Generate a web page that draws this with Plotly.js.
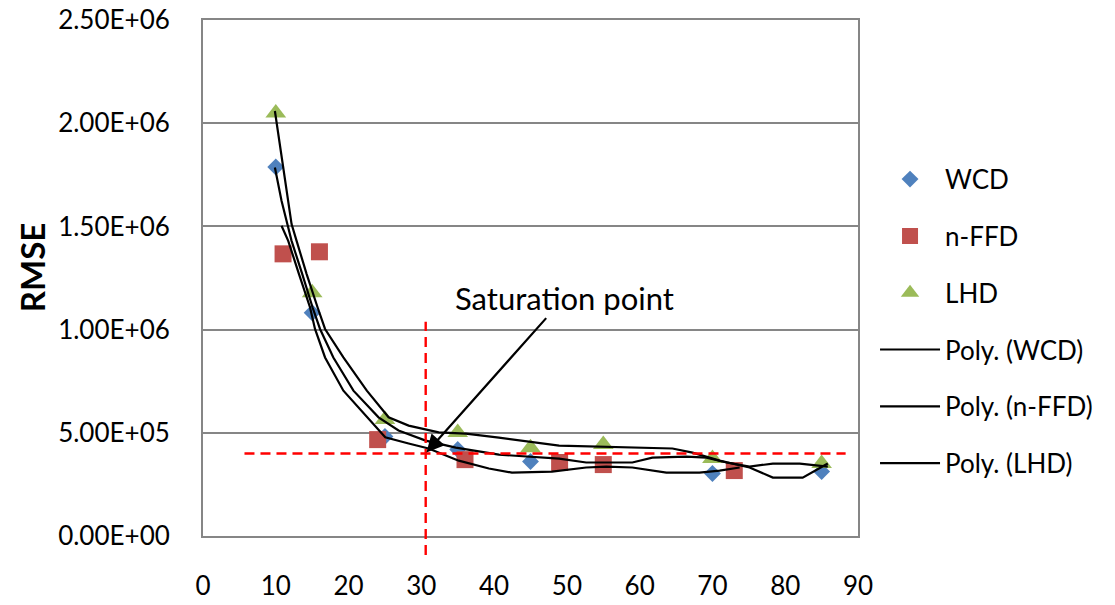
<!DOCTYPE html>
<html>
<head>
<meta charset="utf-8">
<script src="https://cdn.plot.ly/plotly-3.0.1.min.js"></script>
<style>
  html, body { margin: 0; padding: 0; background: #ffffff; }
  #chart { width: 1115px; height: 605px; }
</style>
</head>
<body>
<div id="chart"></div>
<script>
// ---- Data ----
const xWCD = [10, 15, 25, 35, 45, 70, 85];
const yWCD = [1.788e6, 1.082e6, 4.82e5, 4.19e5, 3.61e5, 3.03e5, 3.12e5];

const xFFD = [11, 16, 24, 36, 49, 55, 73];
const yFFD = [1.367e6, 1.377e6, 4.67e5, 3.70e5, 3.56e5, 3.46e5, 3.17e5];

const xLHD = [10, 15, 25, 35, 45, 55, 70, 85];
const yLHD = [2.05e6, 1.178e6, 5.64e5, 5.01e5, 4.28e5, 4.43e5, 3.75e5, 3.51e5];

// polynomial trend lines as drawn in the reference (traced points)
const xPolyWCD = [9.88, 10.79, 11.71, 12.17, 13.64, 15.06, 16.08, 17.91, 20.67, 24.12, 26.87, 30.6, 34.73, 40.66, 48.93, 52.65, 58.99, 61.74, 66.43, 69.19, 71.95, 75.1, 78.3, 82.0, 85.85];
const yPolyWCD = [1.785e6, 1.624e6, 1.495e6, 1.430e6, 1.269e6, 1.107e6, 1.003e6, 8.65e5, 7.04e5, 5.75e5, 5.11e5, 4.62e5, 4.28e5, 3.94e5, 3.75e5, 3.56e5, 3.56e5, 3.80e5, 3.85e5, 3.80e5, 3.56e5, 3.36e5, 3.51e5, 3.51e5, 3.36e5];

const xPolyFFD = [10.79, 11.71, 13.19, 14.71, 15.39, 16.77, 19.29, 22.51, 25.04, 28.25, 31.0, 35.14, 39.28, 42.45, 47.96, 52.65, 55.4, 58.99, 63.67, 68.22, 70.98, 73.74];
const yPolyFFD = [1.503e6, 1.430e6, 1.269e6, 1.107e6, 1.003e6, 8.65e5, 7.04e5, 5.75e5, 4.78e5, 4.48e5, 4.24e5, 3.65e5, 3.27e5, 3.07e5, 3.12e5, 3.32e5, 3.36e5, 3.32e5, 3.07e5, 3.07e5, 3.17e5, 3.32e5];

const xPolyLHD = [9.88, 11.03, 12.17, 12.86, 14.24, 15.75, 16.77, 19.29, 22.51, 25.5, 28.25, 32.39, 36.11, 40.66, 48.93, 64.5, 67.26, 70.98, 75.1, 78.3, 82.4, 85.85];
const yPolyLHD = [2.059e6, 1.785e6, 1.511e6, 1.430e6, 1.269e6, 1.107e6, 1.003e6, 8.65e5, 7.04e5, 5.75e5, 5.35e5, 5.02e5, 4.96e5, 4.77e5, 4.38e5, 4.24e5, 4.04e5, 3.65e5, 3.32e5, 2.83e5, 2.83e5, 3.51e5];

// axis ticks
const xTicks = [0, 10, 20, 30, 40, 50, 60, 70, 80, 90];
const yTicks = [0, 5e5, 1e6, 1.5e6, 2e6, 2.5e6];
const yTickText = ['0.00E+00', '5.00E+05', '1.00E+06', '1.50E+06', '2.00E+06', '2.50E+06'];

// saturation point reference
const satX = 30.6;
const satY = 4.0e5;
const satLabel = 'Saturation point';
const yTitle = 'RMSE';

// ---- Styling ----
const FONT = 'Lato, "Open Sans", sans-serif';
const grey = '#868686';
const lineStyle = { color: '#000000', width: 2.2, shape: 'linear' };

const traces = [
  { x: xWCD, y: yWCD, name: 'WCD', type: 'scatter', mode: 'markers', legendgroup: 'a',
    marker: { symbol: 'diamond', size: 13, color: '#4f81bd' } },
  { x: xFFD, y: yFFD, name: 'n-FFD', type: 'scatter', mode: 'markers', legendgroup: 'b',
    marker: { symbol: 'square', size: 17, color: '#c0504d' } },
  { x: xLHD, y: yLHD, name: 'LHD', type: 'scatter', mode: 'markers', legendgroup: 'c',
    marker: { symbol: 'triangle-up', size: 18, color: '#9bbb59' } },
  { x: xPolyWCD, y: yPolyWCD, name: 'Poly. (WCD)', type: 'scatter', mode: 'lines', legendgroup: 'd', line: lineStyle },
  { x: xPolyFFD, y: yPolyFFD, name: 'Poly. (n-FFD)', type: 'scatter', mode: 'lines', legendgroup: 'e', line: lineStyle },
  { x: xPolyLHD, y: yPolyLHD, name: 'Poly. (LHD)', type: 'scatter', mode: 'lines', legendgroup: 'f', line: lineStyle }
];

const layout = {
  width: 1115, height: 605,
  margin: { l: 203, r: 257, t: 20, b: 69, pad: 0 },
  paper_bgcolor: '#ffffff', plot_bgcolor: '#ffffff',
  font: { family: FONT, size: 26, color: '#000000' },
  showlegend: true,
  legend: {
    x: 1.026, xanchor: 'left', y: 0.737, yanchor: 'top',
    font: { family: FONT, size: 26, color: '#000000' },
    tracegroupgap: 20, itemwidth: 60, bgcolor: 'rgba(0,0,0,0)'
  },
  xaxis: {
    range: [0, 90], tickvals: xTicks, ticktext: xTicks.map(String),
    showgrid: false, zeroline: false, showline: true, linecolor: grey, linewidth: 2, mirror: true,
    ticks: '', ticklabelstandoff: 26, tickfont: { family: FONT, size: 26, color: '#000000' }
  },
  yaxis: {
    range: [0, 2.5e6], tickvals: yTicks, ticktext: yTickText,
    showgrid: true, gridcolor: grey, gridwidth: 2, zeroline: false,
    showline: true, linecolor: grey, linewidth: 2, mirror: true,
    ticks: '', ticklabelstandoff: 26, tickfont: { family: FONT, size: 26, color: '#000000' }
  },
  shapes: [
    { type: 'line', xref: 'x', yref: 'paper', x0: satX, x1: satX, y0: -0.037, y1: 0.415,
      line: { color: '#ff0000', width: 2.4, dash: '10px,6px' } },
    { type: 'line', xref: 'x', yref: 'y', x0: 5.7, x1: 88.3, y0: satY, y1: satY,
      line: { color: '#ff0000', width: 2.4, dash: '10px,6px' } }
  ],
  annotations: [
    { x: satX + 0.1, y: satY + 4000, xref: 'x', yref: 'y', text: satLabel, showarrow: true,
      ax: 138, ay: -155, arrowhead: 2, arrowsize: 1.6, arrowwidth: 2.2, arrowcolor: '#000000',
      font: { family: FONT, size: 31, color: '#000000' } },
    { x: -0.261, y: 0.519, xref: 'paper', yref: 'paper', text: '<b>' + yTitle + '</b>', showarrow: false,
      textangle: -90, xanchor: 'center', yanchor: 'middle',
      font: { family: FONT, size: 33, color: '#000000' } }
  ]
};

Plotly.newPlot('chart', traces, layout, { staticPlot: true, displayModeBar: false });
</script>
</body>
</html>
